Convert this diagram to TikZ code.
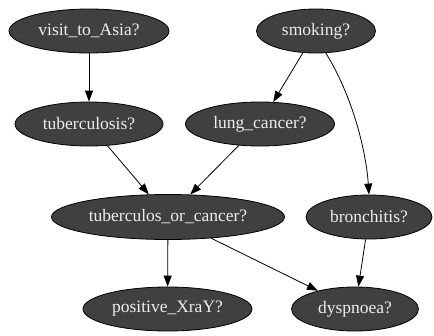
\documentclass[tikz,border=0pt]{standalone}
\usepackage{fontspec}
\setmainfont{Liberation Serif}
\usetikzlibrary{arrows.meta,shapes.geometric}
\definecolor{nodefill}{HTML}{404040}
\definecolor{nodetext}{HTML}{EDEDED}
\tikzset{
  bnnode/.style={ellipse,draw=black,line width=0.8pt,fill=nodefill,text=nodetext,
    inner sep=0pt,minimum height=44pt,font=\fontsize{17.5}{20}\selectfont},
  bnedge/.style={-{Triangle[length=11pt,width=8pt]},line width=0.8pt}
}
\begin{document}
\begin{tikzpicture}[x=1pt,y=1pt]
			\useasboundingbox (0,0) rectangle (434,-335);
			% nodes
			\node [bnnode,minimum width=160pt] (asia) at (89,-31) {visit\_to\_Asia?};
			\node [bnnode,minimum width=119pt] (smoke) at (316,-31) {smoking?};
			\node [bnnode,minimum width=148pt] (tub) at (89,-124) {tuberculosis?};
			\node [bnnode,minimum width=149pt] (lung) at (260,-124) {lung\_cancer?};
			\node [bnnode,minimum width=233pt,minimum height=45pt] (tor) at (168,-217) {tuberculos\_or\_cancer?};
			\node [bnnode,minimum width=126pt] (bronc) at (369,-217) {bronchitis?};
			\node [bnnode,minimum width=169pt] (xray) at (167.5,-309) {positive\_XraY?};
			\node [bnnode,minimum width=127pt] (dysp) at (355,-309) {dyspnoea?};
			% edges
			\draw [bnedge] (asia) -- (tub);
			\draw [bnedge] (smoke) -- (lung);
			\draw [bnedge] (smoke.-66) .. controls (352,-95) and (366,-150) .. (bronc.north);
			\draw [bnedge] (tub) -- (tor);
			\draw [bnedge] (lung) -- (tor);
			\draw [bnedge] (tor) -- (xray);
			\draw [bnedge] (tor) -- (dysp);
			\draw [bnedge] (bronc) -- (dysp);
\end{tikzpicture}
\end{document}
